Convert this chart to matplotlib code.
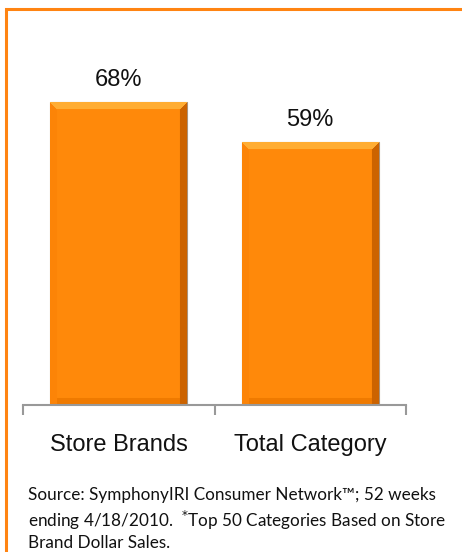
import numpy as np
import matplotlib.pyplot as plt
from matplotlib.patches import Rectangle

categories = ["Store Brands", "Total Category"]
shares = [68, 59]
value_labels = ["68%", "59%"]
source_note = ("Source: SymphonyIRI Consumer Network\u2122; 52 weeks\n"
               "ending 4/18/2010.  $^{*}$Top 50 Categories Based on Store\n"
               "Brand Dollar Sales.")

W, H = 462, 552
fig = plt.figure(figsize=(W / 100, H / 100), dpi=100)
fig.patch.set_facecolor("white")

# orange frame, open to the right and bottom edges
fig.add_artist(Rectangle((6 / W, -0.05), 1.1, 1.05 - 9 / H,
                         transform=fig.transFigure, fill=False,
                         edgecolor="#FF8412", linewidth=2.2, clip_on=False))

ax = fig.add_axes([23 / W, 147 / H, 383 / W, 356 / H])
ax.set_xlim(-0.5, 1.5)
ax.set_ylim(0, 80)
x = np.arange(len(categories))
bars = ax.bar(x, shares, width=0.715, color="#FF8A0C",
              edgecolor="#A8927C", linewidth=0.8, zorder=2)


def bevel_image(w_px, h_px, b=7):
    """Orange RGB array with a light top bevel and darker sides."""
    base = np.array([1.0, 0.54, 0.04])
    img = np.ones((h_px, w_px, 3)) * base
    yy, xx = np.mgrid[0:h_px, 0:w_px]
    top = (yy < b) & (xx >= yy) & (w_px - 1 - xx >= yy)
    left = (xx < b) & ~top
    right = (w_px - 1 - xx < b) & ~top
    bottom = (h_px - 1 - yy < b) & ~left & ~right
    img[top] = [1.0, 0.68, 0.20]
    img[left] = [0.99, 0.52, 0.03]
    img[right] = [0.80, 0.39, 0.0]
    img[bottom] = [0.94, 0.48, 0.0]
    return np.clip(img, 0, 1)


fig.canvas.draw()
for bar in bars:
    bb = bar.get_window_extent()
    img = bevel_image(max(int(bb.width), 2), max(int(bb.height), 2))
    im = ax.imshow(img, extent=(bar.get_x(), bar.get_x() + bar.get_width(),
                                0, bar.get_height()),
                   aspect="auto", zorder=2.5, interpolation="bilinear")
    im.set_clip_path(bar)

for xi, v, lab in zip(x, shares, value_labels):
    ax.annotate(lab, (xi, v), xytext=(0, 8.5), textcoords="offset points",
                ha="center", va="bottom", fontsize=17,
                family="Liberation Sans", color="#111111")

for side in ["top", "right", "left"]:
    ax.spines[side].set_visible(False)
ax.spines["bottom"].set_color("#999999")
ax.spines["bottom"].set_linewidth(1.5)
ax.set_yticks([])
ax.set_xticks(x)
ax.set_xticklabels(categories, fontsize=17, family="Liberation Sans",
                   color="#111111")
ax.tick_params(axis="x", which="major", length=0, pad=21)
ax.set_xticks([-0.5, 0.5, 1.5], minor=True)
ax.tick_params(axis="x", which="minor", length=7, width=1.5,
               color="#999999", direction="out")
ax.set_facecolor("none")

fig.text(28 / W, 1 - 487 / H, source_note, ha="left", va="top",
         fontsize=12.3, family="Lato", color="#111111", linespacing=1.3)

fig.savefig("out.png", dpi=100)
